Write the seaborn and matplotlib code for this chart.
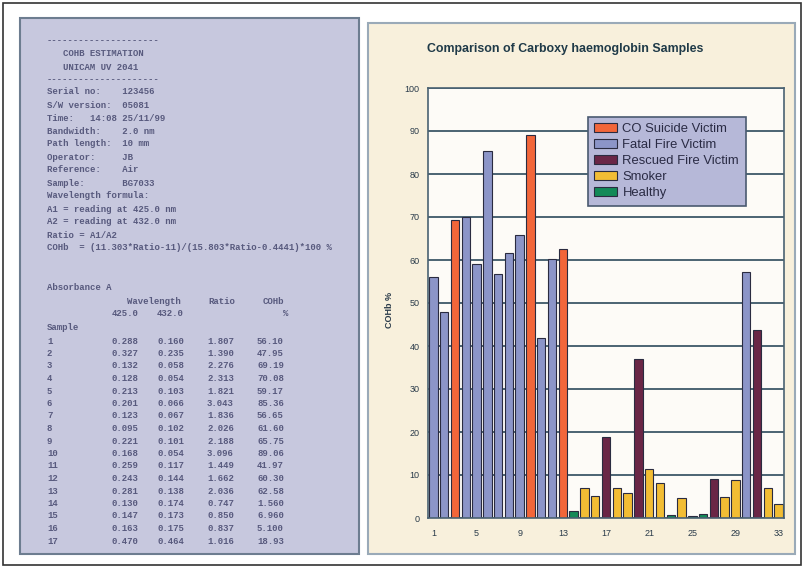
import matplotlib
matplotlib.use("Agg")
import matplotlib.pyplot as plt
import numpy as np
import pandas as pd
import seaborn as sns
from matplotlib.patches import Rectangle

# ---------------- DATA ---------------- #
samples = [str(i) for i in range(1, 34)]
cohb = [56.10, 47.95, 69.19, 70.08, 59.17, 85.36, 56.65, 61.60, 65.75, 89.06,
        41.97, 60.30, 62.58, 1.56, 6.96, 5.10, 18.93, 7.0, 5.8, 36.9,
        11.3, 8.2, 0.7, 4.6, 0.4, 1.0, 9.0, 5.0, 8.8, 57.3,
        43.7, 6.9, 3.3]
groups = ["Fatal Fire Victim", "Fatal Fire Victim", "CO Suicide Victim", "Fatal Fire Victim",
          "Fatal Fire Victim", "Fatal Fire Victim", "Fatal Fire Victim", "Fatal Fire Victim",
          "Fatal Fire Victim", "CO Suicide Victim", "Fatal Fire Victim", "Fatal Fire Victim",
          "CO Suicide Victim", "Healthy", "Smoker", "Smoker", "Rescued Fire Victim", "Smoker",
          "Smoker", "Rescued Fire Victim", "Smoker", "Smoker", "Healthy", "Smoker", "Healthy",
          "Healthy", "Rescued Fire Victim", "Smoker", "Smoker", "Fatal Fire Victim",
          "Rescued Fire Victim", "Smoker", "Smoker"]
group_order = ["CO Suicide Victim", "Fatal Fire Victim", "Rescued Fire Victim", "Smoker", "Healthy"]
group_colors = ["#f2663a", "#8c95c8", "#6a2646", "#f2bd34", "#138a58"]
x_labels = ["1", "5", "9", "13", "17", "21", "25", "29", "33"]

# printout (left panel) values
abs425 = [0.288, 0.327, 0.132, 0.128, 0.213, 0.201, 0.123, 0.095, 0.221, 0.168,
          0.259, 0.243, 0.281, 0.130, 0.147, 0.163, 0.470]
abs432 = [0.160, 0.235, 0.058, 0.054, 0.103, 0.066, 0.067, 0.102, 0.101, 0.054,
          0.117, 0.144, 0.138, 0.174, 0.173, 0.175, 0.464]
ratio = [1.807, 1.390, 2.276, 2.313, 1.821, 3.043, 1.836, 2.026, 2.188, 3.096,
         1.449, 1.662, 2.036, 0.747, 0.850, 0.837, 1.016]
header_lines = ["Serial no:    123456",
                "S/W version:  05081",
                "Time:   14:08 25/11/99",
                "Bandwidth:    2.0 nm",
                "Path length:  10 mm",
                "Operator:     JB",
                "Reference:    Air",
                "Sample:       BG7033",
                "Wavelength formula:",
                "A1 = reading at 425.0 nm",
                "A2 = reading at 432.0 nm",
                "Ratio = A1/A2",
                "COHb  = (11.303*Ratio-11)/(15.803*Ratio-0.4441)*100 %"]

df = pd.DataFrame({"sample": samples, "cohb": cohb, "group": groups})

sns.set_style("white")
plt.rcParams["font.family"] = ["Liberation Sans", "DejaVu Sans"]

W, H = 804, 568
fig = plt.figure(figsize=(W / 100, H / 100), dpi=100)
fig.patch.set_facecolor("white")


def fx(px):
    return px / W


def fy(py):
    return 1 - py / H


# ---------------- BACKGROUND PANELS ---------------- #
panel_kw = dict(transform=fig.transFigure, zorder=-5)
fig.patches.append(Rectangle((fx(3), fy(565)), fx(798), 562 / H, fill=False,
                             edgecolor="#333333", lw=1.2, **panel_kw))
fig.patches.append(Rectangle((fx(20), fy(554)), fx(339), 536 / H,
                             facecolor="#c7c8de", edgecolor="#6d7d90", lw=1.5, **panel_kw))
fig.patches.append(Rectangle((fx(368), fy(554)), fx(427), 531 / H,
                             facecolor="#f8f0dc", edgecolor="#9aaab8", lw=1.5, **panel_kw))

# ---------------- PRINTOUT TEXT ---------------- #
mono = dict(family="Liberation Mono", fontsize=6.5, fontweight="bold", color="#585a7e",
            va="center", ha="left")
fig.text(fx(47), fy(41), "-" * 21, **mono)
fig.text(fx(63), fy(54), "COHB ESTIMATION", **mono)
fig.text(fx(63), fy(67), "UNICAM UV 2041", **mono)
fig.text(fx(47), fy(80), "-" * 21, **mono)
for i, line in enumerate(header_lines):
    fig.text(fx(47), fy(92 + i * 13), line, **mono)

fig.text(fx(47), fy(288), "Absorbance A", **mono)
fig.text(fx(127), fy(302), "Wavelength", **mono)
fig.text(fx(208), fy(302), "Ratio", **mono)
fig.text(fx(263), fy(302), "COHb", **mono)
fig.text(fx(112), fy(314), "425.0", **mono)
fig.text(fx(157), fy(314), "432.0", **mono)
fig.text(fx(283), fy(314), "%", **mono)
fig.text(fx(47), fy(328), "Sample", **mono)
for i in range(len(abs425)):
    y = fy(341 + i * 12.5)
    v = cohb[i]
    fig.text(fx(47), y, str(i + 1), **mono)
    fig.text(fx(112), y, f"{abs425[i]:.3f}", **mono)
    fig.text(fx(158), y, f"{abs432[i]:.3f}", **mono)
    fig.text(fx(207), y, f"{ratio[i]:.3f}", **mono)
    fig.text(fx(257), y, f"{v:.2f}" if v >= 10 else f"{v:.3f}", **mono)

# ---------------- BAR CHART ---------------- #
ax = fig.add_axes([fx(428), 1 - 518 / H, 356 / W, 430 / H])
ax.set_facecolor("#fdfbf7")
sns.barplot(data=df, x="sample", y="cohb", hue="group", hue_order=group_order,
            palette=dict(zip(group_order, group_colors)), dodge=False, width=0.78,
            saturation=1, edgecolor="#2a2b40", linewidth=0.8, ax=ax, legend=True)

ax.set_xlim(-0.5, 32.5)
ax.set_ylim(0, 100)
ax.set_yticks(np.arange(0, 101, 10))
ax.set_xticks([samples.index(s) for s in x_labels])
ax.set_xticklabels(x_labels)
ax.set_xticks(np.arange(-0.5, 33, 1), minor=True)
ax.set_axisbelow(True)
ax.yaxis.grid(True, color="#3d5868", lw=1.3)
ax.xaxis.grid(False)
for sp in ax.spines.values():
    sp.set_color("#4a6272")
    sp.set_linewidth(1.2)
ax.tick_params(axis="x", which="major", length=0, pad=8, labelsize=6.5, labelcolor="#2a3b4a")
ax.tick_params(axis="x", which="minor", length=3, width=0.8, color="#4a6272", direction="out")
ax.tick_params(axis="y", length=4, width=1, color="#3d5868", direction="out",
               labelsize=6.5, labelcolor="#2a3b4a", pad=2)
ax.set_xlabel("")
ax.set_ylabel("")

leg = ax.legend(loc="upper left", bbox_to_anchor=(0.449, 0.933), fontsize=9.4,
                frameon=True, fancybox=False, facecolor="#b6b8d8", edgecolor="#4a5a70",
                framealpha=1, handlelength=1.7, handleheight=0.65, labelspacing=0.3,
                borderpad=0.5, handletextpad=0.45, borderaxespad=0)
for t in leg.get_texts():
    t.set_color("#2a2b44")
leg.get_frame().set_linewidth(1.2)

fig.text(fx(565), fy(49), "Comparison of Carboxy haemoglobin Samples", ha="center", va="center",
         fontsize=8.9, fontweight="bold", color="#1f3a48")
fig.text(fx(390), fy(310), "COHb %", rotation=90, ha="center", va="center",
         fontsize=6.5, fontweight="bold", color="#2a3b4a")

fig.savefig("out.png", dpi=100)
